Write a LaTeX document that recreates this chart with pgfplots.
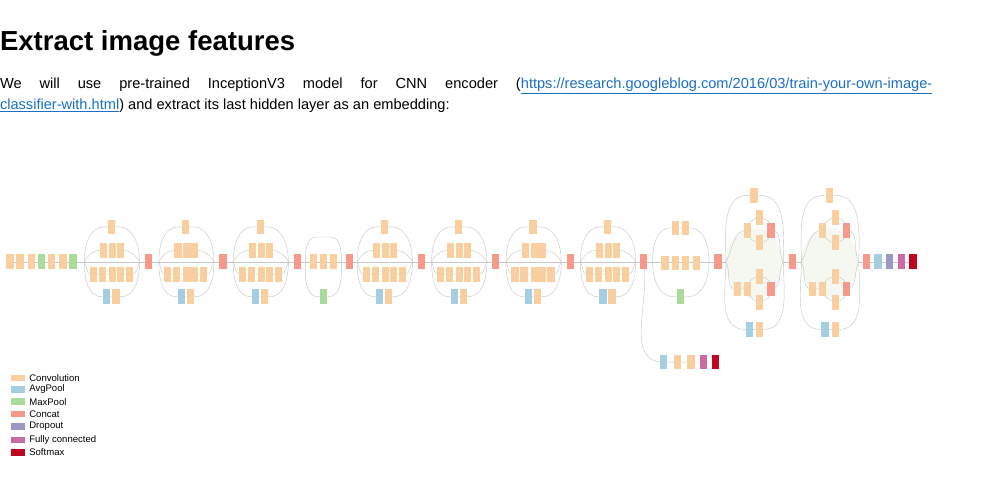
\documentclass[border=0pt]{standalone}
\usepackage{pgfplots}
\pgfplotsset{compat=1.18}
\usepackage{fontspec}
\setmainfont{Liberation Sans}
\definecolor{conv}{HTML}{F9CFA0}
\definecolor{avg}{HTML}{A6CEE3}
\definecolor{maxp}{HTML}{ABDB9A}
\definecolor{cat}{HTML}{F5998B}
\definecolor{drop}{HTML}{9C98C6}
\definecolor{fc}{HTML}{C96BA6}
\definecolor{soft}{HTML}{C0061F}
\definecolor{linkblue}{HTML}{1A6FC6}
\definecolor{edge}{HTML}{C8C8C8}
\definecolor{efill}{HTML}{F5F8F1}
\pgfdeclareplotmark{ibox}{\pgfsetcornersarced{\pgfpoint{1.6bp}{1.6bp}}\pgfpathrectangle{\pgfpoint{-3.2bp}{-6.5bp}}{\pgfpoint{6.4bp}{13bp}}\pgfusepathqfill}
\pgfdeclareplotmark{lbox}{\pgfsetcornersarced{\pgfpoint{2bp}{2bp}}\pgfpathrectangle{\pgfpoint{-6bp}{-3bp}}{\pgfpoint{12bp}{6bp}}\pgfusepathqfill}
\newcommand\modA[1]{%
 \draw[edge,thin] (axis cs:#1-24,232) to[out=90,in=180] (axis cs:#1-6,201) -- (axis cs:#1+6,201) to[out=0,in=90] (axis cs:#1+25,232);
 \draw[edge,thin] (axis cs:#1-24,232) to[out=-90,in=180] (axis cs:#1-8,263) -- (axis cs:#1+8,263) to[out=0,in=-90] (axis cs:#1+25,232);
 \draw[edge,thin] (axis cs:#1-24,232) to[out=60,in=180] (axis cs:#1-10,222) -- (axis cs:#1+10,222) to[out=0,in=120] (axis cs:#1+25,232);
 \draw[edge,thin] (axis cs:#1-24,232) to[out=-60,in=180] (axis cs:#1-18,243) -- (axis cs:#1+18,243) to[out=0,in=-120] (axis cs:#1+25,232);
}
\newcommand\modE[1]{%
 \fill[efill] (axis cs:#1,233) ellipse [x radius=25bp, y radius=31bp];
 \draw[edge,thin] (axis cs:#1-25,232) to[out=90,in=180] (axis cs:#1-5,173) -- (axis cs:#1+5,173) to[out=0,in=90] (axis cs:#1+26,232);
 \draw[edge,thin] (axis cs:#1-25,232) to[out=-90,in=180] (axis cs:#1-8,292) -- (axis cs:#1+8,292) to[out=0,in=-90] (axis cs:#1+26,232);
 \draw[edge,thin] (axis cs:#1+5,204) circle [radius=11bp];
 \draw[edge,thin] (axis cs:#1+5,256) circle [radius=11bp];
 \draw[edge,thin] (axis cs:#1-25,232) to[out=60,in=180] (axis cs:#1-6,204);
 \draw[edge,thin] (axis cs:#1-25,232) to[out=-60,in=180] (axis cs:#1-16,256) -- (axis cs:#1-6,256);
 \draw[edge,thin] (axis cs:#1+15,204) to[out=0,in=120] (axis cs:#1+26,232);
 \draw[edge,thin] (axis cs:#1+15,256) to[out=0,in=-120] (axis cs:#1+26,232);
}
\begin{document}
\begin{tikzpicture}
\begin{axis}[width=982bp,height=434bp,scale only axis,axis lines=none,
 xmin=0,xmax=982,ymin=0,ymax=434,y dir=reverse,clip=false]
\draw[black!12] (axis cs:968,0) -- (axis cs:968,434);
\node[anchor=base west,inner sep=0pt,font=\fontsize{24.5}{28}\selectfont\bfseries] at (axis cs:97,45) {Extract image features};
\node[anchor=base west,inner sep=0pt,font=\fontsize{13}{19}\selectfont] at (axis cs:97,78) {\hbox to 827bp{We will use pre-trained InceptionV3 model for CNN encoder (\textcolor{linkblue}{\underline{https://research.googleblog.com/2016/03/train-your-own-image-}}}};
\node[anchor=base west,inner sep=0pt,font=\fontsize{13}{19}\selectfont] at (axis cs:97,97) {\textcolor{linkblue}{\underline{classifier-with.html}}) and extract its last hidden layer as an embedding:};
\draw[edge,thin] (axis cs:106,232) -- (axis cs:907,232);
\modA{196}\modA{262}\modA{328}\modA{438}\modA{504}\modA{570}\modA{636}
\draw[edge,thin] (axis cs:368,232) to[out=90,in=180] (axis cs:378,210) -- (axis cs:390,210) to[out=0,in=90] (axis cs:400,232);
\draw[edge,thin] (axis cs:368,232) to[out=-90,in=180] (axis cs:380,263) -- (axis cs:388,263) to[out=0,in=-90] (axis cs:400,232);
\draw[edge,thin] (axis cs:676,232) to[out=90,in=180] (axis cs:692,202) -- (axis cs:709,202) to[out=0,in=90] (axis cs:726,232);
\draw[edge,thin] (axis cs:676,232) to[out=-90,in=180] (axis cs:695,263) -- (axis cs:707,263) to[out=0,in=-90] (axis cs:726,232);
\draw[edge,thin] (axis cs:668,232) to[out=-80,in=180] (axis cs:686,321) -- (axis cs:732,321);
\modE{766}
\modE{833}
\addplot[only marks,mark=ibox,color=conv] coordinates {
(106,232)(115,232)(125,232)(143,232)(153,232)
(196,201)(189,222)(197,222)(204,222)(180,243)(188,243)(197,243)(204,243)(212,243)(200,263)
(262,201)(255,222)(263,222)(270,222)(246,243)(254,243)(263,243)(270,243)(278,243)(266,263)
(328,201)(321,222)(329,222)(336,222)(312,243)(320,243)(329,243)(336,243)(344,243)(332,263)
(438,201)(431,222)(439,222)(446,222)(422,243)(430,243)(439,243)(446,243)(454,243)(442,263)
(504,201)(497,222)(505,222)(512,222)(488,243)(496,243)(505,243)(512,243)(520,243)(508,263)
(570,201)(563,222)(571,222)(578,222)(554,243)(562,243)(571,243)(578,243)(586,243)(574,263)
(636,201)(629,222)(637,222)(644,222)(620,243)(628,243)(637,243)(644,243)(652,243)(640,263)
(375,232)(384,232)(393,232)
(696,202)(705,202)(687,233)(696,233)(705,233)(715,233)
(698,321)(710,321)
(766,173)(771,193)(760,204)(771,215)(771,245)(751,256)(760,256)(771,268)(771,292)
(833,173)(838,193)(827,204)(838,215)(838,245)(818,256)(827,256)(838,268)(838,292)
};
\addplot[only marks,mark=ibox,color=avg] coordinates {
(192,263)(258,263)(324,263)(434,263)(500,263)(566,263)(632,263)(686,321)(762,292)(829,292)(876,232)};
\addplot[only marks,mark=ibox,color=maxp] coordinates {(134,232)(162,232)(384,263)(701,263)};
\addplot[only marks,mark=ibox,color=cat] coordinates {
(229,232)(295,232)(361,232)(407,232)(471,232)(537,232)(603,232)(668,232)(734,232)(800,232)(866,232)
(781,204)(781,256)(848,204)(848,256)};
\addplot[only marks,mark=ibox,color=drop] coordinates {(886,232)};
\addplot[only marks,mark=ibox,color=fc] coordinates {(721,321)(897,232)};
\addplot[only marks,mark=ibox,color=soft] coordinates {(732,321)(907,232)};
\addplot[only marks,mark=lbox,color=conv] coordinates {(113,335)};
\addplot[only marks,mark=lbox,color=avg] coordinates {(113,345)};
\addplot[only marks,mark=lbox,color=maxp] coordinates {(113,356)};
\addplot[only marks,mark=lbox,color=cat] coordinates {(113,367)};
\addplot[only marks,mark=lbox,color=drop] coordinates {(113,378)};
\addplot[only marks,mark=lbox,color=fc] coordinates {(113,390)};
\addplot[only marks,mark=lbox,color=soft] coordinates {(113,401)};
\node[anchor=west,inner sep=0pt,font=\fontsize{8.5}{10}\selectfont] at (axis cs:123,335) {Convolution};
\node[anchor=west,inner sep=0pt,font=\fontsize{8.5}{10}\selectfont] at (axis cs:123,345) {AvgPool};
\node[anchor=west,inner sep=0pt,font=\fontsize{8.5}{10}\selectfont] at (axis cs:123,356) {MaxPool};
\node[anchor=west,inner sep=0pt,font=\fontsize{8.5}{10}\selectfont] at (axis cs:123,367) {Concat};
\node[anchor=west,inner sep=0pt,font=\fontsize{8.5}{10}\selectfont] at (axis cs:123,378) {Dropout};
\node[anchor=west,inner sep=0pt,font=\fontsize{8.5}{10}\selectfont] at (axis cs:123,390) {Fully connected};
\node[anchor=west,inner sep=0pt,font=\fontsize{8.5}{10}\selectfont] at (axis cs:123,401) {Softmax};
\end{axis}
\end{tikzpicture}
\end{document}
